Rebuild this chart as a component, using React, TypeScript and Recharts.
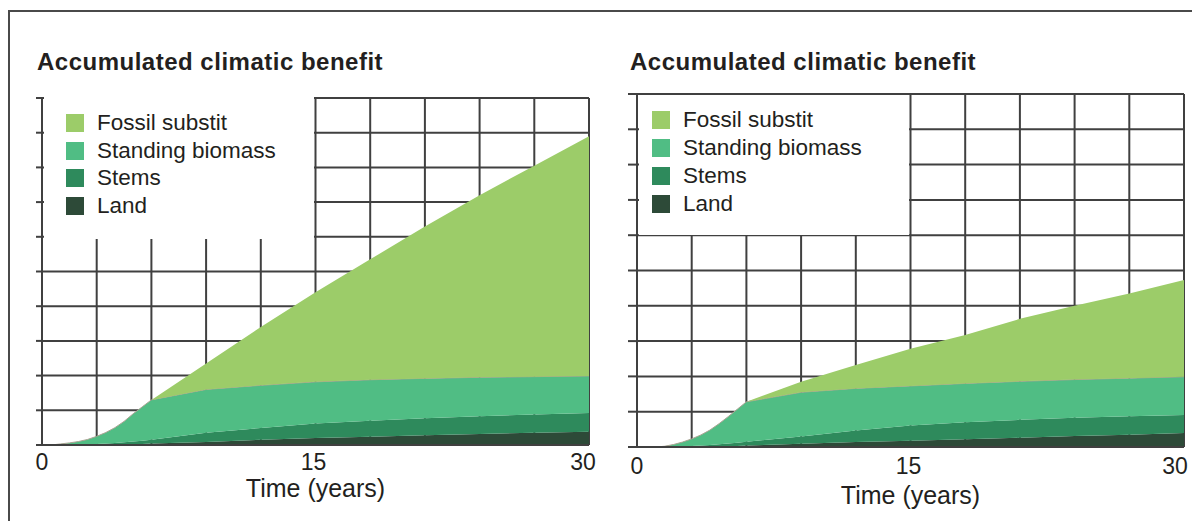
import React from 'react';
import { AreaChart, Area, XAxis, YAxis, CartesianGrid, Legend } from 'recharts';

// time axis (years) shared by both panels
const years = [0, 0.5, 1, 1.5, 2, 2.5, 3, 3.5, 4, 4.5, 5, 5.5, 6, 9, 12, 15, 18, 21, 24, 27, 30];
const gridYears = [0, 3, 6, 9, 12, 15, 18, 21, 24, 27, 30];
const labelYears = [0, 15, 30];
const levels = [0, 1, 2, 3, 4, 5, 6, 7, 8, 9, 10];

// layer thickness, left panel
const landLeft = [0, 0, 0, 0, 0, 0, 0.01, 0.01, 0.02, 0.02, 0.03, 0.03, 0.04, 0.09, 0.15, 0.2, 0.24, 0.28, 0.32, 0.35, 0.38];
const stemsLeft = [0, 0, 0, 0, 0.01, 0.02, 0.02, 0.03, 0.04, 0.06, 0.07, 0.09, 0.11, 0.26, 0.34, 0.42, 0.46, 0.49, 0.51, 0.53, 0.54];
const biomassLeft = [0, 0, 0.03, 0.06, 0.09, 0.14, 0.22, 0.32, 0.44, 0.6, 0.8, 0.98, 1.15, 1.25, 1.23, 1.2, 1.18, 1.15, 1.12, 1.09, 1.07];
const fossilLeft = [0, 0, 0, 0, 0, 0, 0, 0, 0, 0, 0, 0, 0, 0.75, 1.68, 2.58, 3.47, 4.38, 5.25, 6.08, 6.91];

// layer thickness, right panel
const landRight = [0, 0, 0, 0, 0, 0, 0.01, 0.01, 0.02, 0.02, 0.03, 0.03, 0.04, 0.09, 0.14, 0.18, 0.22, 0.26, 0.31, 0.35, 0.4];
const stemsRight = [0, 0, 0, 0, 0.01, 0.02, 0.02, 0.03, 0.04, 0.06, 0.07, 0.09, 0.11, 0.21, 0.33, 0.43, 0.48, 0.51, 0.52, 0.52, 0.51];
const biomassRight = [0, 0, 0, 0.02, 0.06, 0.12, 0.2, 0.3, 0.42, 0.58, 0.76, 0.95, 1.13, 1.25, 1.19, 1.12, 1.1, 1.09, 1.08, 1.08, 1.08];
const fossilRight = [0, 0, 0, 0, 0, 0, 0, 0, 0, 0, 0, 0, 0, 0.3, 0.66, 1.05, 1.37, 1.77, 2.09, 2.4, 2.74];

// legend order (top to bottom)
const seriesNames = ['Fossil substit', 'Standing biomass', 'Stems', 'Land'];
const seriesColors = ['#9ccc69', '#50bd84', '#2e8a5c', '#2d4a38'];

const FONT = '"Liberation Sans", Arial, Helvetica, sans-serif';
const INK = '#231f20';
const GRID = '#404040';

const buildRows = (land: number[], stems: number[], biomass: number[], fossil: number[]) =>
    years.map((t, i) => ({ t, land: land[i], stems: stems[i], biomass: biomass[i], fossil: fossil[i] }));

const leftData = buildRows(landLeft, stemsLeft, biomassLeft, fossilLeft);
const rightData = buildRows(landRight, stemsRight, biomassRight, fossilRight);

const TimeTick = ({ x, y, payload, dy, lastShift }: any) => {
    const v = payload.value;
    if (!labelYears.includes(v)) return null;
    const shift = v === 30 ? lastShift : v === 0 ? 0 : -2;
    return (
        <text x={x + shift} y={y + dy} textAnchor="middle" fill={INK} fontSize={23} fontFamily={FONT}>
            {v}
        </text>
    );
};

const LegendBox = ({ payload, rowTop, rowGap, swatchX, textX }: any) => {
    const items = [...(payload || [])].sort(
        (a: any, b: any) => seriesNames.indexOf(a.value) - seriesNames.indexOf(b.value)
    );
    return (
        <div style={{ position: 'relative', width: '100%', height: '100%', background: '#fff' }}>
            {items.map((item: any, i: number) => (
                <div
                    key={item.value}
                    style={{ position: 'absolute', left: 0, top: rowTop + i * rowGap, height: 28, display: 'flex', alignItems: 'center' }}
                >
                    <span
                        style={{
                            position: 'absolute',
                            left: swatchX,
                            width: 18,
                            height: 18,
                            background: seriesColors[seriesNames.indexOf(item.value)],
                        }}
                    />
                    <span
                        style={{
                            position: 'absolute',
                            left: textX,
                            whiteSpace: 'nowrap',
                            fontFamily: FONT,
                            fontSize: 22.5,
                            lineHeight: '28px',
                            color: INK,
                        }}
                    >
                        {item.value}
                    </span>
                </div>
            ))}
        </div>
    );
};

function BenefitPanel({ data, left, width, top, bottomBand, tickSize, tickDy, lastShift, labelOffset, box, rows }: any) {
    return (
        <div style={{ position: 'absolute', left, top: 0 }}>
            <AreaChart width={width} height={521} data={data} margin={{ top, right: width - 42 - 547, left: 0, bottom: 0 }}>
                <CartesianGrid stroke={GRID} strokeWidth={2} verticalValues={gridYears} horizontalValues={levels} />
                <XAxis
                    dataKey="t"
                    type="number"
                    domain={[0, 30]}
                    ticks={gridYears}
                    height={bottomBand}
                    axisLine={{ stroke: GRID, strokeWidth: 2 }}
                    tickLine={false}
                    tickSize={0}
                    tickMargin={0}
                    interval={0}
                    tick={<TimeTick dy={tickDy} lastShift={lastShift} />}
                    label={{
                        value: 'Time (years)',
                        position: 'insideBottom',
                        offset: labelOffset,
                        fill: INK,
                        fontSize: 25,
                        fontFamily: FONT,
                    }}
                />
                <YAxis
                    type="number"
                    domain={[0, 10]}
                    ticks={levels}
                    width={42}
                    interval={0}
                    axisLine={{ stroke: GRID, strokeWidth: 2 }}
                    tickLine={{ stroke: GRID, strokeWidth: 2 }}
                    tickSize={tickSize}
                    tickFormatter={() => ''}
                />
                <Legend
                    layout="vertical"
                    align="center"
                    verticalAlign="middle"
                    wrapperStyle={{ left: box.left, top: box.top, width: box.width, height: box.height, margin: 0, padding: 0 }}
                    content={<LegendBox {...rows} />}
                />
                <Area type="linear" dataKey="land" name="Land" stackId="s" fill={seriesColors[3]} fillOpacity={1} stroke="none" isAnimationActive={false} />
                <Area type="linear" dataKey="stems" name="Stems" stackId="s" fill={seriesColors[2]} fillOpacity={1} stroke="none" isAnimationActive={false} />
                <Area type="linear" dataKey="biomass" name="Standing biomass" stackId="s" fill={seriesColors[1]} fillOpacity={1} stroke="#aaa392" strokeWidth={1} isAnimationActive={false} />
                <Area type="linear" dataKey="fossil" name="Fossil substit" stackId="s" fill={seriesColors[0]} fillOpacity={1} stroke="none" isAnimationActive={false} />
            </AreaChart>
        </div>
    );
}

const titleStyle: React.CSSProperties = {
    position: 'absolute',
    top: 50,
    fontFamily: FONT,
    fontWeight: 700,
    fontSize: 24,
    lineHeight: '24px',
    letterSpacing: 0.5,
    color: INK,
    whiteSpace: 'nowrap',
};

export default function App() {
    return (
        <div style={{ position: 'absolute', left: 0, top: 0, width: 1192, height: 521, overflow: 'hidden', background: '#fff' }}>
            <div style={{ position: 'absolute', left: 8, top: 10, width: 1300, height: 600, borderLeft: '2px solid #4a4a4a', borderTop: '2px solid #4a4a4a' }} />
            <BenefitPanel
                data={leftData}
                left={0}
                width={600}
                top={98}
                bottomBand={76}
                tickSize={6}
                tickDy={25}
                lastShift={-6}
                labelOffset={24}
                box={{ left: 44, top: 97, width: 270, height: 142 }}
                rows={{ rowTop: 12, rowGap: 27.7, swatchX: 22, textX: 53 }}
            />
            <BenefitPanel
                data={rightData}
                left={595}
                width={597}
                top={94}
                bottomBand={74}
                tickSize={9}
                tickDy={27}
                lastShift={-9}
                labelOffset={17}
                box={{ left: 44, top: 95, width: 270, height: 140 }}
                rows={{ rowTop: 11, rowGap: 28, swatchX: 13, textX: 44 }}
            />
            <div style={{ ...titleStyle, left: 37 }}>Accumulated climatic benefit</div>
            <div style={{ ...titleStyle, left: 630 }}>Accumulated climatic benefit</div>
        </div>
    );
}
